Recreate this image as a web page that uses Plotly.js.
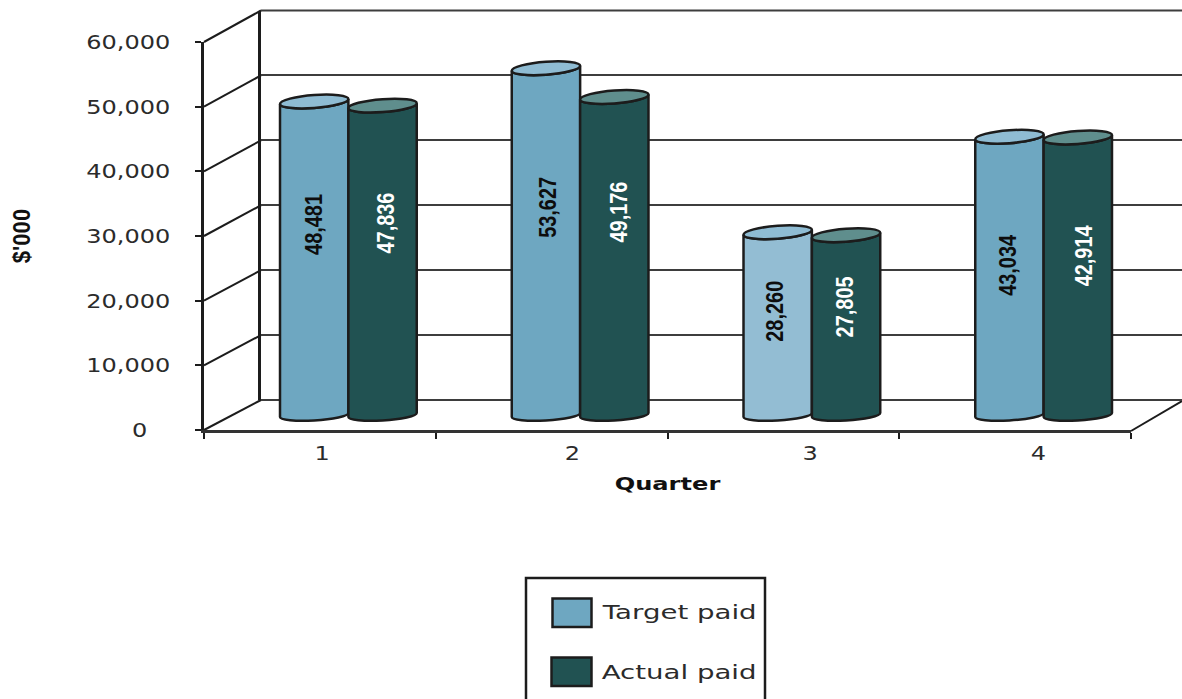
<!DOCTYPE html>
<html>
<head>
<meta charset="utf-8">
<script src="https://cdn.plot.ly/plotly-3.0.1.min.js"></script>
<style>
  html, body { margin: 0; padding: 0; background: #fff; overflow: hidden; }
  #chart { width: 1182px; height: 699px; }
</style>
</head>
<body>
<div id="chart"></div>
<script>
// Quarterly amounts paid, target against actual, in $'000
const quarters = [1, 2, 3, 4];
const targetPaid = [48481, 53627, 28260, 43034];
const actualPaid = [47836, 49176, 27805, 42914];
const valueTicks = [0, 10000, 20000, 30000, 40000, 50000, 60000];
const valueTickText = ['0\u00a0\u00a0\u00a0', '10,000', '20,000', '30,000', '40,000', '50,000', '60,000'];
const quarterLabelAt = [1.01, 2.09, 3.115, 4.1];
const quarterBounds = [0.5, 1.5, 2.5, 3.5, 4.5];
const legendNames = ['Target paid', 'Actual paid'];

// Where each rotated value label sits along its column
const targetLabelX = [0.847, 1.857, 2.836, 3.842];
const targetLabelY = [29500, 32150, 16070, 23180];
const actualLabelX = [1.160, 2.166, 3.141, 4.168];
const actualLabelY = [29650, 31370, 16690, 24580];

const W = 1182, H = 699;
const px = x => x / W;
const py = y => 1 - y / H;

const TARGET = '#6ea7c1', TARGET_LIGHT = '#93bdd3', ACTUAL = '#215252';
const TARGET_CAP = '#8fbcd3', ACTUAL_CAP = '#5f8e8d';
const INK = '#1c1c1c', TEXT = '#2b2b2b', WALL = '#3d3d3d';
const targetColors = quarters.map(q => q === 3 ? TARGET_LIGHT : TARGET);

// Column half-group width on the category axis, cap radius and tilt on the value axis
const BAR_W = 0.295, CAP_R = 1000, CAP_T = 380, BASE_R = 850, BASE_T = 300;
const K = 0.5523;

// Half-ellipse segments on the value scale; dir = 1 is the upper arc, -1 the lower
function arc(x0, x1, v, r, t, dir, reverse) {
  const a = (x1 - x0) / 2, c = (x0 + x1) / 2;
  const X = u => c + a * u;
  const Y = (u, s) => v + t * u + dir * r * s;
  if (!reverse) {
    return `C ${X(-1)} ${Y(-1, K)} ${X(-K)} ${Y(-K, 1)} ${X(0)} ${Y(0, 1)} ` +
           `C ${X(K)} ${Y(K, 1)} ${X(1)} ${Y(1, K)} ${X(1)} ${Y(1, 0)} `;
  }
  return `C ${X(1)} ${Y(1, K)} ${X(K)} ${Y(K, 1)} ${X(0)} ${Y(0, 1)} ` +
         `C ${X(-K)} ${Y(-K, 1)} ${X(-1)} ${Y(-1, K)} ${X(-1)} ${Y(-1, 0)} `;
}

function cylinder(x0, x1, v, bodyColor, capColor) {
  const body = `M ${x0} ${v - CAP_T} L ${x0} ${-BASE_T} ` +
    arc(x0, x1, 0, BASE_R, BASE_T, -1, false) +
    `L ${x1} ${v + CAP_T} ` + arc(x0, x1, v, CAP_R, CAP_T, -1, true) + 'Z';
  const cap = `M ${x0} ${v - CAP_T} ` + arc(x0, x1, v, CAP_R, CAP_T, 1, false) +
    arc(x0, x1, v, CAP_R, CAP_T, -1, true) + 'Z';
  const common = { type: 'path', xref: 'x3', yref: 'y3', layer: 'above', line: { color: INK, width: 2.5 } };
  return [
    Object.assign({ path: body, fillcolor: bodyColor }, common),
    Object.assign({ path: cap, fillcolor: capColor }, common)
  ];
}

const cylinderShapes = [];
quarters.forEach((q, i) => {
  cylinderShapes.push(...cylinder(q - BAR_W, q, targetPaid[i], targetColors[i], TARGET_CAP));
  cylinderShapes.push(...cylinder(q, q + BAR_W, actualPaid[i], ACTUAL, ACTUAL_CAP));
});

// Floor and side-wall edges joining the front axis to the back wall
const frontY = v => 430 - v * 388 / 60000;
const backY = v => 400 - v * 389.5 / 60000;
const edge = (x0, y0, x1, y1, color) => ({
  type: 'line', xref: 'paper', yref: 'paper', layer: 'below',
  x0: px(x0), y0: py(y0), x1: px(x1), y1: py(y1), line: { color: color || INK, width: 2 }
});
const wallShapes = valueTicks.map(v => edge(204, frontY(v), 261, backY(v)));
wallShapes.push(edge(1131, 431, 1182, 401));
// The wall's first and last rules fall on its border, where the grid is not drawn
wallShapes.push(edge(261, backY(0), W, backY(0), WALL));
wallShapes.push(edge(261, backY(60000), W, backY(60000), WALL));

// Legend frame and swatches
const box = (x0, y0, x1, y1, fill, lw) => ({
  type: 'rect', xref: 'paper', yref: 'paper', layer: 'above',
  x0: px(x0), y0: py(y0), x1: px(x1), y1: py(y1),
  fillcolor: fill, line: { color: INK, width: lw }
});
const legendShapes = [
  box(526, 578, 765, 720, '#ffffff', 2.5),
  box(552.5, 598.5, 591.5, 627, TARGET, 2.5),
  box(551.5, 657.5, 591.5, 686, ACTUAL, 2.5)
];

const valueLabel = n => n.toLocaleString('en-US');
const labelFont = { family: '"Liberation Sans", sans-serif', size: 24, weight: 700 };
const labelAnnotations = [];
quarters.forEach((q, i) => {
  labelAnnotations.push({
    xref: 'x3', yref: 'y3', x: targetLabelX[i], y: targetLabelY[i], text: valueLabel(targetPaid[i]),
    textangle: -90, showarrow: false, font: Object.assign({ color: '#0d0d0d' }, labelFont)
  });
  labelAnnotations.push({
    xref: 'x3', yref: 'y3', x: actualLabelX[i], y: actualLabelY[i], text: valueLabel(actualPaid[i]),
    textangle: -90, showarrow: false, font: Object.assign({ color: '#ffffff' }, labelFont)
  });
});
const legendAnnotations = legendNames.map((name, i) => ({
  xref: 'paper', yref: 'paper', x: px(679), y: py(i === 0 ? 612 : 672), xanchor: 'center', yanchor: 'middle',
  text: name, showarrow: false, font: { family: '"DejaVu Sans", sans-serif', size: 20, color: TEXT }
}));

const sansFont = { family: '"DejaVu Sans", sans-serif', size: 20, color: TEXT };

const traces = [
  // Unmarked traces keep the back wall and the front axes on the page
  { type: 'scatter', mode: 'none', x: quarterBounds, y: valueTicks.slice(0, 5), xaxis: 'x', yaxis: 'y', hoverinfo: 'skip', showlegend: false },
  { type: 'scatter', mode: 'none', x: quarterBounds, y: valueTicks.slice(0, 5), xaxis: 'x2', yaxis: 'y2', hoverinfo: 'skip', showlegend: false },
  { type: 'bar', name: legendNames[0], x: quarters, y: targetPaid, xaxis: 'x3', yaxis: 'y3',
    marker: { color: targetColors, cornerradius: 5 }, hoverinfo: 'x+y+name' },
  { type: 'bar', name: legendNames[1], x: quarters, y: actualPaid, xaxis: 'x3', yaxis: 'y3',
    marker: { color: ACTUAL, cornerradius: 5 }, hoverinfo: 'x+y+name' }
];

const layout = {
  width: W, height: H,
  margin: { l: 0, r: 0, t: 0, b: 0 },
  paper_bgcolor: '#ffffff', plot_bgcolor: 'rgba(0,0,0,0)',
  showlegend: false,
  barmode: 'group', bargap: 0.41, bargroupgap: 0,
  // Back wall
  xaxis: { domain: [px(261), 1], range: [0.5, 4.5], anchor: 'y', showgrid: false,
           zeroline: false, showline: false, ticks: '', showticklabels: false },
  yaxis: { domain: [py(400), py(10.5)], range: [0, 60000], anchor: 'x', tickmode: 'array', tickvals: valueTicks,
           showgrid: true, gridcolor: WALL, gridwidth: 2, zeroline: false,
           showline: true, linecolor: INK, linewidth: 2.5, ticks: '', showticklabels: false },
  // Front axes carrying the ticks and titles
  xaxis2: { domain: [px(204), px(1131)], range: [0.5, 4.5], anchor: 'y2', showgrid: false, zeroline: false,
            showline: true, linecolor: '#333333', linewidth: 2.5,
            tickmode: 'array', tickvals: quarterLabelAt, ticktext: quarters.map(String), ticks: '',
            ticklabelstandoff: 3, tickfont: sansFont,
            minor: { tickmode: 'array', tickvals: quarterBounds, ticks: 'outside', ticklen: 6, tickwidth: 2, tickcolor: INK, showgrid: false },
            title: { text: 'Quarter', standoff: 14, font: { family: '"DejaVu Sans", sans-serif', size: 18, weight: 700, color: '#111111' } } },
  yaxis2: { domain: [py(430), py(42)], range: [0, 60000], anchor: 'x2', showgrid: false, zeroline: false,
            showline: true, linecolor: INK, linewidth: 2.5,
            tickmode: 'array', tickvals: valueTicks, ticktext: valueTickText,
            ticks: 'outside', ticklen: 6, tickwidth: 2, tickcolor: INK, ticklabelstandoff: 21, tickfont: sansFont,
            title: { text: "$'000", standoff: 63, font: { family: '"Liberation Sans", sans-serif', size: 24, weight: 700, color: '#111111' } } },
  // Columns stand midway between front and back
  xaxis3: { domain: [px(232.5), px(1159.5)], range: [0.5, 4.5], anchor: 'y3', visible: false },
  yaxis3: { domain: [py(447.33), py(1.13)], range: [-5000, 64000], anchor: 'x3', visible: false },
  shapes: wallShapes.concat(cylinderShapes, legendShapes),
  annotations: labelAnnotations.concat(legendAnnotations)
};

Plotly.newPlot('chart', traces, layout, { displayModeBar: false, responsive: false }).then(() => {
  // The sans labels run wider than the font's natural proportions, the rotated ones narrower
  const fit = (el, factor) => {
    el.setAttribute('textLength', el.getComputedTextLength() * factor);
    el.setAttribute('lengthAdjust', 'spacingAndGlyphs');
  };
  document.querySelectorAll('.y2tick text, .x2tick text').forEach(el => fit(el, 1.2));
  document.querySelectorAll('.x2title').forEach(el => fit(el, 1.34));
  document.querySelectorAll('.y2title').forEach(el => fit(el, 0.92));
  document.querySelectorAll('.annotation-text').forEach(el => {
    fit(el, legendNames.includes(el.textContent) ? 1.38 : 0.83);
  });
});
</script>
</body>
</html>
